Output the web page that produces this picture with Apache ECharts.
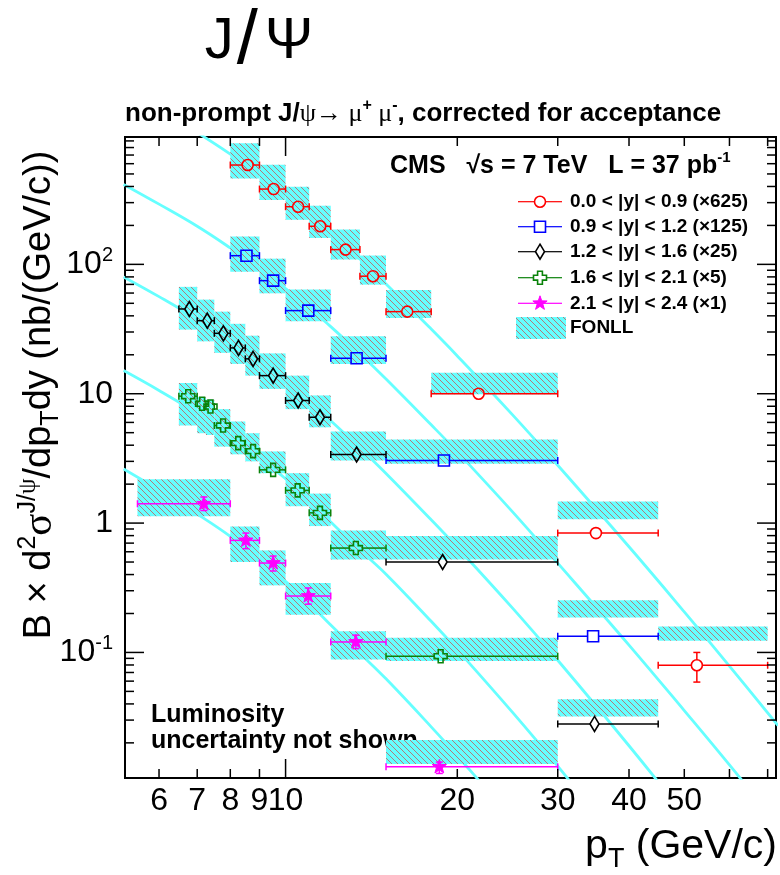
<!DOCTYPE html>
<html>
<head>
<meta charset="utf-8">
<script src="https://cdn.jsdelivr.net/npm/echarts@6.0.0/dist/echarts.min.js"></script>
<style>
html,body{margin:0;padding:0;background:#fff;}
#chart{width:780px;height:875px;}
</style>
</head>
<body>
<div id="chart"></div>
<script>
// ---------------- data ----------------
// FONLL central curves, already scaled like the data
const fonllPt      = [5.2, 6, 7, 8, 9, 10, 11, 12, 13.5, 15, 18, 20, 25, 30, 40, 50, 60, 73];
const fonll_y00_09 = [2200, 1549, 1043, 712, 494, 347, 246, 177, 110, 70.6, 31.6, 19.6, 6.86, 2.8, 0.656, 0.206, 0.0785, 0.0272];
const fonll_y09_12 = [415, 292, 197, 134, 93, 65, 46, 33, 20.4, 13, 5.75, 3.55, 1.22, 0.49, 0.114, 0.0355, 0.0135, 0.0046];
const fonll_y12_16 = [80, 56.3, 37.7, 25.6, 17.6, 12.3, 8.66, 6.19, 3.81, 2.42, 1.06, 0.649, 0.22, 0.087, 0.019, 0.00557, 0.00196, 0.0006];
const fonll_y16_21 = [15.1, 10.6, 7.05, 4.74, 3.2, 2.2, 1.48, 1.02, 0.62, 0.403, 0.174, 0.105, 0.0344, 0.0132, 0.0027, 0.0008, 0.0003, 0.0001];
const fonll_y21_24 = [2.62, 1.8, 1.175, 0.79, 0.525, 0.355, 0.24, 0.163, 0.0985, 0.0625, 0.0266, 0.0159, 0.00506, 0.0018, 0.0004, 0.0001, 0.00004, 0.00001];

// 0.0 < |y| < 0.9 (x625)
const a_binLo = [8, 9, 10, 11, 12, 13.5, 15, 18, 30, 45];
const a_binHi = [9, 10, 11, 12, 13.5, 15, 18, 30, 45, 70];
const a_pt    = [8.58, 9.53, 10.52, 11.5, 12.74, 14.23, 16.34, 21.8, 35.0, 52.6];
const a_val   = [586, 382, 279, 197, 130, 81, 43.1, 10, 0.837, 0.0796];
const a_errLo = [586, 382, 279, 197, 130, 81, 43.1, 10, 0.837, 0.059];
const a_errHi = [586, 382, 279, 197, 130, 81, 43.1, 10, 0.837, 0.1];
const a_fLo   = [461, 314, 221, 160, 109, 69.7, 38.5, 9.9, 1.07, 0.123];
const a_fHi   = [865, 589, 398, 284, 186, 117, 63.4, 14.5, 1.47, 0.159];

// 0.9 < |y| < 1.2 (x125)
const b_binLo = [8, 9, 10, 12, 15, 30];
const b_binHi = [9, 10, 12, 15, 30, 45];
const b_pt    = [8.54, 9.51, 10.96, 13.32, 18.95, 34.6];
const b_val   = [116.7, 74.8, 43.9, 18.8, 3.05, 0.1334];
const b_errLo = [116.7, 74.8, 43.9, 18.8, 3.05, 0.1334];
const b_errHi = [116.7, 74.8, 43.9, 18.8, 3.05, 0.1334];
const b_fLo   = [87.8, 59.7, 36.3, 17.0, 2.88, 0.186];
const b_fHi   = [164, 110.7, 63.8, 27.8, 4.43, 0.253];

// 1.2 < |y| < 1.6 (x25)
const c_binLo = [6.5, 7, 7.5, 8, 8.5, 9, 10, 11, 12, 15, 30];
const c_binHi = [7, 7.5, 8, 8.5, 9, 10, 11, 12, 15, 30, 45];
const c_pt    = [6.78, 7.29, 7.78, 8.27, 8.77, 9.51, 10.52, 11.49, 13.32, 18.85, 34.8];
const c_val   = [45.2, 36.7, 29.3, 22.6, 18.6, 13.8, 8.86, 6.58, 3.39, 0.5, 0.028];
const c_errLo = [45.2, 36.7, 29.3, 22.6, 18.6, 13.8, 8.86, 6.58, 3.39, 0.5, 0.028];
const c_errHi = [45.2, 36.7, 29.3, 22.6, 18.6, 13.8, 8.86, 6.58, 3.39, 0.5, 0.028];
const c_fLo   = [31.3, 25.4, 20.7, 17, 13.8, 10.9, 7.6, 5.5, 3.05, 0.522, 0.032];
const c_fHi   = [67, 53.4, 43.1, 34.7, 28.1, 20.5, 13.8, 9.7, 5.1, 0.794, 0.0435];

// 1.6 < |y| < 2.1 (x5)
const d_binLo = [6.5, 7, 7.25, 7.5, 8, 8.5, 9, 10, 11, 12, 15];
const d_binHi = [7, 7.25, 7.5, 8, 8.5, 9, 10, 11, 12, 15, 30];
const d_pt    = [6.75, 7.14, 7.385, 7.77, 8.26, 8.77, 9.51, 10.5, 11.49, 13.28, 18.7];
const d_val   = [9.57, 8.36, 7.96, 5.68, 4.15, 3.60, 2.58, 1.79, 1.20, 0.641, 0.0935];
const d_errLo = [9.57, 8.36, 7.96, 5.68, 4.15, 3.60, 2.58, 1.79, 1.20, 0.641, 0.0935];
const d_errHi = [9.57, 8.36, 7.96, 5.68, 4.15, 3.60, 2.58, 1.79, 1.20, 0.641, 0.0935];
const d_fLo   = [5.68, 4.95, 4.8, 3.9, 3.4, 3.0, 2.43, 1.35, 0.948, 0.524, 0.0859];
const d_fHi   = [12.1, 9.4, 9.0, 7.6, 6.1, 4.95, 3.58, 2.43, 1.69, 0.878, 0.13];

// 2.1 < |y| < 2.4 (x1)
const e_binLo = [5.5, 8, 9, 10, 12, 15];
const e_binHi = [8, 9, 10, 12, 15, 30];
const e_pt    = [7.19, 8.52, 9.51, 10.96, 13.28, 18.6];
const e_val   = [1.41, 0.735, 0.491, 0.273, 0.1205, 0.01305];
const e_errLo = [1.25, 0.634, 0.426, 0.236, 0.107, 0.0116];
const e_errHi = [1.59, 0.837, 0.556, 0.315, 0.136, 0.0142];
const e_fLo   = [1.13, 0.5, 0.33, 0.196, 0.088, 0.0137];
const e_fHi   = [2.18, 0.943, 0.615, 0.344, 0.146, 0.021];

// axes
const ptMin = 5.23, ptMax = 72.4;
const vMin = 0.0107, vMax = 965;
const xTickVals  = [6, 7, 8, 9, 10, 20, 30, 40, 50, 60, 70];
const xTickMajor = [0, 0, 0, 0, 1, 0, 0, 0, 0, 0, 0];
const xLabelVals = [6, 7, 8, 9, 10, 20, 30, 40, 50];
const xLabelText = ['6', '7', '8', '9', '10', '20', '30', '40', '50'];
const yTickVals  = [0.02,0.03,0.04,0.05,0.06,0.07,0.08,0.09,0.1,0.2,0.3,0.4,0.5,0.6,0.7,0.8,0.9,1,
                    2,3,4,5,6,7,8,9,10,20,30,40,50,60,70,80,90,100,200,300,400,500,600,700,800,900];
const yTickMajor = [0,0,0,0,0,0,0,0,1,0,0,0,0,0,0,0,0,1,0,0,0,0,0,0,0,0,1,0,0,0,0,0,0,0,0,1,0,0,0,0,0,0,0,0];
const yLabelVals = [0.1, 1, 10, 100];
const yLabelText = ['{b|10}{s|-1}', '{b|1}', '{b|10}', '{b|10}{s|2}'];

const legendText = ['0.0 < |y| < 0.9 (\u00d7625)', '0.9 < |y| < 1.2 (\u00d7125)', '1.2 < |y| < 1.6 (\u00d725)',
                    '1.6 < |y| < 2.1 (\u00d75)', '2.1 < |y| < 2.4 (\u00d71)'];

// ---------------- styling helpers ----------------
const SANS = '"Liberation Sans", Arial, Helvetica, sans-serif';
const SERIF = '"Liberation Serif", "DejaVu Serif", serif';
const CYAN = '#66ffff';

function makeHatch() {
  const s = 6;
  const cv = document.createElement('canvas');
  cv.width = s; cv.height = s;
  const g = cv.getContext('2d');
  g.fillStyle = CYAN; g.fillRect(0, 0, s, s);
  g.strokeStyle = '#b07c7c'; g.lineWidth = 1;
  g.beginPath();
  for (const k of [-s, 0, s]) { g.moveTo(k, 0); g.lineTo(k + s, s); }
  g.stroke();
  return cv;
}
const hatch = { image: makeHatch(), repeat: 'repeat' };

function markerEls(shape, cx, cy, color) {
  const st = { fill: 'none', stroke: color, lineWidth: 1.6 };
  if (shape === 'circle') return [{ type: 'circle', shape: { cx, cy, r: 5.5 }, style: st }];
  if (shape === 'square') return [{ type: 'rect', shape: { x: cx - 5.5, y: cy - 5.5, width: 11, height: 11 }, style: st }];
  if (shape === 'diamond') return [{ type: 'polygon', shape: { points: [[cx, cy - 7.5], [cx + 4.5, cy], [cx, cy + 7.5], [cx - 4.5, cy]] }, style: st }];
  if (shape === 'cross') {
    const a = 2.4, L = 6.5;
    return [{ type: 'polygon', shape: { points: [[cx - a, cy - L], [cx + a, cy - L], [cx + a, cy - a], [cx + L, cy - a], [cx + L, cy + a], [cx + a, cy + a], [cx + a, cy + L], [cx - a, cy + L], [cx - a, cy + a], [cx - L, cy + a], [cx - L, cy - a], [cx - a, cy - a]] }, style: st }];
  }
  const pts = [];
  for (let k = 0; k < 10; k++) {
    const r = k % 2 ? 3 : 7.5;
    const ang = -Math.PI / 2 + k * Math.PI / 5;
    pts.push([cx + r * Math.cos(ang), cy + r * Math.sin(ang)]);
  }
  return [{ type: 'polygon', shape: { points: pts }, style: { fill: color, stroke: color, lineWidth: 1 } }];
}
const HALF = { circle: 5.5, square: 5.5, diamond: 4.5, cross: 6.5, star: 0 };
const HALFV = { circle: 5.5, square: 5.5, diamond: 7.5, cross: 6.5, star: 0 };

const sets = [
  { name: legendText[0], color: '#ff0000', shape: 'circle',  lo: a_binLo, hi: a_binHi, pt: a_pt, val: a_val, eLo: a_errLo, eHi: a_errHi, fLo: a_fLo, fHi: a_fHi, curve: fonll_y00_09 },
  { name: legendText[1], color: '#0000ff', shape: 'square',  lo: b_binLo, hi: b_binHi, pt: b_pt, val: b_val, eLo: b_errLo, eHi: b_errHi, fLo: b_fLo, fHi: b_fHi, curve: fonll_y09_12 },
  { name: legendText[2], color: '#000000', shape: 'diamond', lo: c_binLo, hi: c_binHi, pt: c_pt, val: c_val, eLo: c_errLo, eHi: c_errHi, fLo: c_fLo, fHi: c_fHi, curve: fonll_y12_16 },
  { name: legendText[3], color: '#0a820a', shape: 'cross',   lo: d_binLo, hi: d_binHi, pt: d_pt, val: d_val, eLo: d_errLo, eHi: d_errHi, fLo: d_fLo, fHi: d_fHi, curve: fonll_y16_21 },
  { name: legendText[4], color: '#ff00ff', shape: 'star',    lo: e_binLo, hi: e_binHi, pt: e_pt, val: e_val, eLo: e_errLo, eHi: e_errHi, fLo: e_fLo, fHi: e_fHi, curve: fonll_y21_24 }
];

const series = [];
sets.forEach(s => {
  series.push({
    type: 'line', z: 1, smooth: 0.4, showSymbol: false, symbol: 'none', silent: true, clip: true,
    lineStyle: { color: CYAN, width: 2.8 },
    data: fonllPt.map((p, i) => [p, s.curve[i]])
  });
});
sets.forEach(s => {
  series.push({
    type: 'custom', z: 2, clip: true, silent: true,
    data: s.lo.map((l, i) => [l, s.hi[i], s.fLo[i], s.fHi[i]]),
    encode: { x: [0, 1], y: [2, 3] },
    renderItem(params, api) {
      const p1 = api.coord([api.value(0), api.value(3)]);
      const p2 = api.coord([api.value(1), api.value(2)]);
      return { type: 'rect', shape: { x: p1[0], y: p1[1], width: p2[0] - p1[0], height: p2[1] - p1[1] }, style: { fill: hatch } };
    }
  });
});
sets.forEach(s => {
  series.push({
    type: 'custom', z: 5, clip: false, silent: true,
    data: s.pt.map((p, i) => [p, s.val[i], s.lo[i], s.hi[i], s.eLo[i], s.eHi[i]]),
    encode: { x: 0, y: 1 },
    renderItem(params, api) {
      const c = api.coord([api.value(0), api.value(1)]);
      const xl = api.coord([api.value(2), api.value(1)])[0];
      const xr = api.coord([api.value(3), api.value(1)])[0];
      const yl = api.coord([api.value(0), api.value(4)])[1];
      const yh = api.coord([api.value(0), api.value(5)])[1];
      const hw = HALF[s.shape], hv = HALFV[s.shape];
      const ln = (x1, y1, x2, y2) => ({ type: 'line', shape: { x1, y1, x2, y2 }, style: { stroke: s.color, lineWidth: 1.5 } });
      const ch = [];
      if (c[0] - hw > xl) ch.push(ln(xl, c[1], c[0] - hw, c[1]));
      if (xr > c[0] + hw) ch.push(ln(c[0] + hw, c[1], xr, c[1]));
      ch.push(ln(xl, c[1] - 3.5, xl, c[1] + 3.5));
      ch.push(ln(xr, c[1] - 3.5, xr, c[1] + 3.5));
      if (yh < c[1] - hv - 1) { ch.push(ln(c[0], c[1] - hv, c[0], yh)); ch.push(ln(c[0] - 3.5, yh, c[0] + 3.5, yh)); }
      if (yl > c[1] + hv + 1) { ch.push(ln(c[0], c[1] + hv, c[0], yl)); ch.push(ln(c[0] - 3.5, yl, c[0] + 3.5, yl)); }
      markerEls(s.shape, c[0], c[1], s.color).forEach(e => ch.push(e));
      return { type: 'group', children: ch };
    }
  });
});
series.push({
  type: 'custom', z: 10, clip: false, silent: true,
  data: xTickVals.map((v, i) => [v, vMin, xTickMajor[i]]),
  renderItem(params, api) {
    const v = api.value(0), len = api.value(2) ? 19 : 9;
    const b = api.coord([v, vMin]), t = api.coord([v, vMax]);
    return { type: 'group', children: [
      { type: 'line', shape: { x1: b[0], y1: b[1], x2: b[0], y2: b[1] - len }, style: { stroke: '#000', lineWidth: 1.5 } },
      { type: 'line', shape: { x1: t[0], y1: t[1], x2: t[0], y2: t[1] + len }, style: { stroke: '#000', lineWidth: 1.5 } }
    ] };
  }
});
series.push({
  type: 'custom', z: 10, clip: false, silent: true,
  data: yTickVals.map((v, i) => [ptMin, v, yTickMajor[i]]),
  renderItem(params, api) {
    const v = api.value(1), len = api.value(2) ? 19 : 9;
    const l = api.coord([ptMin, v]), r = api.coord([ptMax, v]);
    return { type: 'group', children: [
      { type: 'line', shape: { x1: l[0], y1: l[1], x2: l[0] + len, y2: l[1] }, style: { stroke: '#000', lineWidth: 1.5 } },
      { type: 'line', shape: { x1: r[0], y1: r[1], x2: r[0] - len, y2: r[1] }, style: { stroke: '#000', lineWidth: 1.5 } }
    ] };
  }
});
series.push({
  type: 'custom', z: 10, clip: false, silent: true,
  data: xLabelVals.map((v, i) => [v, vMin, i]),
  renderItem(params, api) {
    const p = api.coord([api.value(0), vMin]);
    return { type: 'text', x: p[0], y: p[1] + 23, style: { text: xLabelText[api.value(2)], fill: '#000', fontSize: 32, fontFamily: SANS, align: 'center', verticalAlign: 'middle' } };
  }
});
series.push({
  type: 'custom', z: 10, clip: false, silent: true,
  data: yLabelVals.map((v, i) => [ptMin, v, i]),
  renderItem(params, api) {
    const p = api.coord([ptMin, api.value(1)]);
    return { type: 'text', x: p[0] - 12, y: p[1], style: {
      text: yLabelText[api.value(2)], fill: '#000', align: 'right', verticalAlign: 'middle',
      rich: { b: { fontSize: 32, fontFamily: SANS, lineHeight: 38, verticalAlign: 'middle' },
              s: { fontSize: 20, fontFamily: SANS, lineHeight: 20, verticalAlign: 'top' } } } };
  }
});

const graphic = [];
graphic.push({ type: 'text', x: 259, y: 42, style: {
  text: '{j|J}{sl|/}{p|\u03a8}', align: 'center', verticalAlign: 'middle', fill: '#000',
  rich: { j: { fontSize: 58, fontFamily: SANS, lineHeight: 70, verticalAlign: 'middle' },
          sl: { fontSize: 76, fontFamily: SANS, fontWeight: 'lighter', lineHeight: 70, verticalAlign: 'middle', padding: [0, 7, 0, 3] },
          p: { fontSize: 58, fontFamily: SANS, lineHeight: 70, verticalAlign: 'middle' } } } });
graphic.push({ type: 'text', x: 125, y: 114, style: {
  text: '{b|non-prompt J/}{g|\u03c8\u2192 \u03bc}{s|+}{g| \u03bc}{s|-}{b|, corrected for acceptance}',
  align: 'left', verticalAlign: 'middle', fill: '#000',
  rich: { b: { fontSize: 26, fontWeight: 'bold', fontFamily: SANS, lineHeight: 32, verticalAlign: 'middle' },
          g: { fontSize: 26, fontFamily: SERIF, lineHeight: 32, verticalAlign: 'middle' },
          s: { fontSize: 16, fontFamily: SANS, fontWeight: 'bold', lineHeight: 18, verticalAlign: 'top' } } } });
graphic.push({ type: 'text', x: 390, y: 166, style: {
  text: '{b|CMS   \u221as = 7 TeV   L = 37 pb}{s|-1}', align: 'left', verticalAlign: 'middle', fill: '#000',
  rich: { b: { fontSize: 25, fontWeight: 'bold', fontFamily: SANS, lineHeight: 32, verticalAlign: 'middle' },
          s: { fontSize: 15, fontWeight: 'bold', fontFamily: SANS, lineHeight: 16, verticalAlign: 'top' } } } });
const legY = [201.7, 226.7, 251.7, 277.7, 303.3];
sets.forEach((s, i) => {
  const y = legY[i], hw = HALF[s.shape];
  graphic.push({ type: 'line', shape: { x1: 518, y1: y, x2: 540 - hw, y2: y }, style: { stroke: s.color, lineWidth: 1.2 } });
  graphic.push({ type: 'line', shape: { x1: 540 + hw, y1: y, x2: 562, y2: y }, style: { stroke: s.color, lineWidth: 1.2 } });
  markerEls(s.shape, 540, y, s.color).forEach(e => graphic.push(e));
  graphic.push({ type: 'text', x: 570, y: y, style: { text: s.name, fill: '#000', fontSize: 19, fontWeight: 'bold', fontFamily: SANS, align: 'left', verticalAlign: 'middle' } });
});
graphic.push({ type: 'rect', shape: { x: 516, y: 317, width: 50, height: 22 }, style: { fill: hatch } });
graphic.push({ type: 'text', x: 570, y: 328, style: { text: 'FONLL', fill: '#000', fontSize: 19, fontWeight: 'bold', fontFamily: SANS, align: 'left', verticalAlign: 'middle' } });
graphic.push({ type: 'text', x: 151, y: 715, style: { text: 'Luminosity', fill: '#000', fontSize: 25, fontWeight: 'bold', fontFamily: SANS, align: 'left', verticalAlign: 'middle' } });
graphic.push({ type: 'text', x: 151, y: 741, style: { text: 'uncertainty not shown', fill: '#000', fontSize: 25, fontWeight: 'bold', fontFamily: SANS, align: 'left', verticalAlign: 'middle' } });
graphic.push({ type: 'text', x: 777, y: 847, style: {
  text: '{m|p}{sub|T}{m| (GeV/c)}', align: 'right', verticalAlign: 'middle', fill: '#000',
  rich: { m: { fontSize: 41, fontFamily: SANS, lineHeight: 52, verticalAlign: 'middle' },
          sub: { fontSize: 27, fontFamily: SANS, lineHeight: 27, verticalAlign: 'bottom' } } } });
graphic.push({ type: 'text', x: 40, y: 395, rotation: Math.PI / 2, style: {
  text: '{m|B \u00d7 d}{sup|2}{g|\u03c3}{sup|J/}{gs|\u03c8}{m|/dp}{sub|T}{m|dy (nb/(GeV/c))}',
  align: 'center', verticalAlign: 'middle', fill: '#000',
  rich: { m: { fontSize: 38, fontFamily: SANS, lineHeight: 48, verticalAlign: 'middle' },
          g: { fontSize: 41, fontFamily: SERIF, lineHeight: 48, verticalAlign: 'middle' },
          sup: { fontSize: 25, fontFamily: SANS, lineHeight: 25, verticalAlign: 'top' },
          gs: { fontSize: 25, fontFamily: SERIF, lineHeight: 25, verticalAlign: 'top' },
          sub: { fontSize: 25, fontFamily: SANS, lineHeight: 25, verticalAlign: 'bottom' } } } });

const chart = echarts.init(document.getElementById('chart'), null, { renderer: 'canvas' });
chart.setOption({
  animation: false,
  backgroundColor: '#ffffff',
  grid: { left: 125, right: 4, top: 137, bottom: 97, show: true, borderColor: '#000', borderWidth: 2, backgroundColor: 'transparent' },
  xAxis: { type: 'log', logBase: 10, min: ptMin, max: ptMax,
           axisLine: { show: false }, axisTick: { show: false }, axisLabel: { show: false }, splitLine: { show: false } },
  yAxis: { type: 'log', logBase: 10, min: vMin, max: vMax,
           axisLine: { show: false }, axisTick: { show: false }, axisLabel: { show: false }, splitLine: { show: false } },
  series,
  graphic
});
</script>
</body>
</html>
